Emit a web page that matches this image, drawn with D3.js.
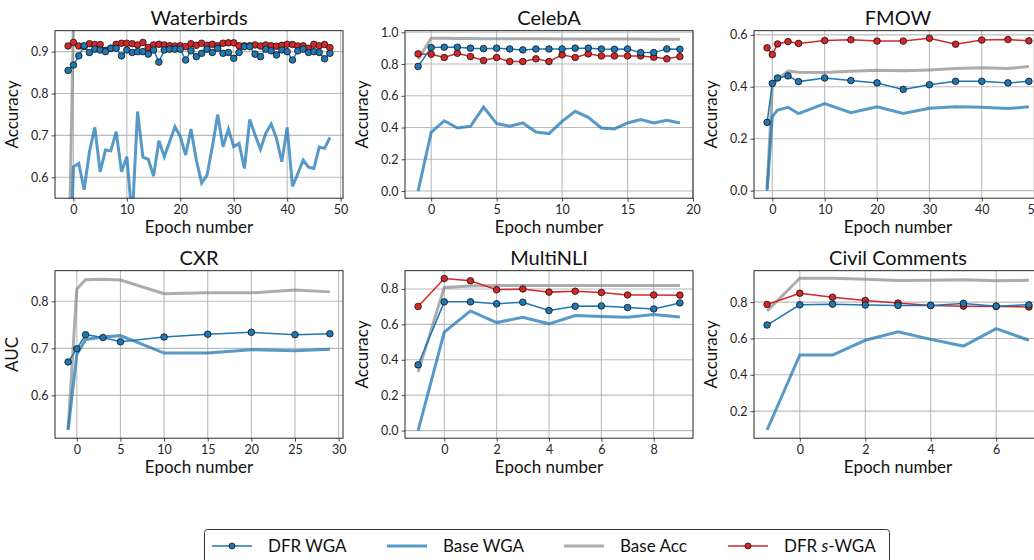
<!DOCTYPE html>
<html><head><meta charset="utf-8">
<script src="https://cdn.jsdelivr.net/npm/d3@7"></script>
<style>body{margin:0;background:#fff}svg{display:block}text{font-family:Lato,"DejaVu Sans",sans-serif}</style>
</head><body><svg id="c" width="1034" height="560"></svg>
<script>
// ---- Data ----
const seriesNames = ["DFR WGA", "Base WGA", "Base Acc", "DFR s-WGA"];

const wbEpochs = [-1,0,1,2,3,4,5,6,7,8,9,10,11,12,13,14,15,16,17,18,19,20,21,22,23,24,25,26,27,28,29,30,31,32,33,34,35,36,37,38,39,40,41,42,43,44,45,46,47,48];
const wbDfrWga = [0.855,0.868,0.890,0.914,0.898,0.906,0.904,0.900,0.908,0.908,0.890,0.904,0.898,0.900,0.900,0.894,0.904,0.875,0.904,0.906,0.906,0.906,0.880,0.902,0.888,0.896,0.906,0.898,0.908,0.896,0.898,0.884,0.898,0.912,0.912,0.894,0.888,0.906,0.902,0.892,0.904,0.900,0.880,0.902,0.906,0.898,0.900,0.898,0.883,0.896];
const wbBaseWga = [0.2,0.625,0.633,0.570,0.661,0.719,0.613,0.665,0.663,0.709,0.613,0.649,0.5,0.757,0.648,0.643,0.603,0.687,0.649,0.685,0.721,0.697,0.653,0.715,0.641,0.586,0.605,0.673,0.750,0.673,0.715,0.673,0.681,0.621,0.738,0.701,0.667,0.705,0.727,0.693,0.637,0.719,0.578,0.609,0.641,0.624,0.621,0.672,0.669,0.695];
const wbBaseAcc = [0.3,0.97,0.97,0.97,0.97,0.97,0.97,0.97,0.97,0.97,0.97,0.97,0.97,0.97,0.97,0.97,0.97,0.97,0.97,0.97,0.97,0.97,0.97,0.97,0.97,0.97,0.97,0.97,0.97,0.97,0.97,0.97,0.97,0.97,0.97,0.97,0.97,0.97,0.97,0.97,0.97,0.97,0.97,0.97,0.97,0.97,0.97,0.97,0.97,0.97];
const wbDfrSwga = [0.9135,0.922,0.9135,0.912,0.919,0.917,0.917,0.903,0.908,0.9175,0.920,0.920,0.919,0.916,0.922,0.910,0.916,0.9175,0.916,0.914,0.9135,0.914,0.912,0.919,0.915,0.920,0.915,0.9175,0.914,0.920,0.921,0.921,0.914,0.914,0.914,0.916,0.9135,0.916,0.914,0.913,0.915,0.9175,0.917,0.9135,0.914,0.908,0.9175,0.914,0.917,0.9095];

const caEpochs = [-1,0,1,2,3,4,5,6,7,8,9,10,11,12,13,14,15,16,17,18,19];
const caDfrWga = [0.785,0.904,0.906,0.906,0.900,0.897,0.900,0.895,0.889,0.895,0.895,0.895,0.900,0.900,0.895,0.893,0.895,0.872,0.872,0.895,0.893];
const caBaseWga = [0.0,0.37,0.443,0.397,0.408,0.529,0.425,0.408,0.429,0.372,0.362,0.439,0.502,0.464,0.397,0.391,0.429,0.450,0.429,0.446,0.429];
const caBaseAcc = [0.83,0.962,0.962,0.961,0.961,0.960,0.960,0.960,0.959,0.959,0.959,0.958,0.958,0.958,0.957,0.957,0.957,0.957,0.956,0.956,0.956];
const caDfrSwga = [0.864,0.862,0.841,0.868,0.847,0.822,0.841,0.816,0.816,0.833,0.816,0.858,0.841,0.864,0.851,0.851,0.851,0.851,0.843,0.833,0.847];

const fmEpochs = [-1,0,1,3,5,10,15,20,25,30,35,40,45,49];
const fmDfrWga = [0.263,0.413,0.434,0.442,0.420,0.434,0.424,0.415,0.390,0.408,0.421,0.421,0.415,0.421];
const fmBaseWga = [0.0,0.285,0.31,0.321,0.297,0.335,0.30,0.323,0.297,0.317,0.323,0.321,0.316,0.323];
const fmBaseAcc = [0.008,0.40,0.43,0.461,0.456,0.455,0.46,0.464,0.462,0.465,0.47,0.473,0.47,0.478];
const fmDfrSwga = [0.550,0.524,0.565,0.574,0.567,0.578,0.581,0.576,0.576,0.587,0.564,0.580,0.582,0.577];

const cxEpochs = [-1,0,1,3,5,10,15,20,25,29];
const cxDfrWga = [0.671,0.699,0.729,0.723,0.714,0.724,0.730,0.734,0.729,0.731];
const cxBaseWga = [0.526,0.687,0.719,0.724,0.727,0.690,0.690,0.697,0.695,0.698];
const cxBaseAcc = [0.528,0.826,0.846,0.847,0.845,0.816,0.818,0.818,0.824,0.820];
const cxDfrSwga = [];

const mnEpochs = [-1,0,1,2,3,4,5,6,7,8,9];
const mnDfrWga = [0.371,0.727,0.727,0.716,0.725,0.678,0.702,0.704,0.695,0.687,0.721];
const mnBaseWga = [0.0,0.556,0.676,0.610,0.640,0.603,0.650,0.644,0.640,0.655,0.642];
const mnBaseAcc = [0.33,0.808,0.817,0.819,0.819,0.819,0.819,0.819,0.819,0.819,0.820];
const mnDfrSwga = [0.701,0.859,0.846,0.795,0.800,0.782,0.787,0.780,0.766,0.766,0.765];

const ccEpochs = [-1,0,1,2,3,4,5,6,7];
const ccDfrWga = [0.674,0.785,0.789,0.784,0.782,0.782,0.793,0.778,0.785];
const ccBaseWga = [0.096,0.509,0.509,0.590,0.637,0.595,0.558,0.654,0.590];
const ccBaseAcc = [0.751,0.932,0.932,0.926,0.919,0.921,0.923,0.917,0.921];
const ccDfrSwga = [0.787,0.849,0.827,0.809,0.795,0.782,0.778,0.776,0.773];

const wbXTicks = [0,10,20,30,40,50], wbYTicks = [0.6,0.7,0.8,0.9];
const caXTicks = [0,5,10,15,20], caYTicks = [0.0,0.2,0.4,0.6,0.8,1.0];
const fmXTicks = [0,10,20,30,40,50], fmYTicks = [0.0,0.2,0.4,0.6];
const cxXTicks = [0,5,10,15,20,25,30], cxYTicks = [0.6,0.7,0.8];
const mnXTicks = [0,2,4,6,8], mnYTicks = [0.0,0.2,0.4,0.6,0.8];
const ccXTicks = [0,2,4,6], ccYTicks = [0.2,0.4,0.6,0.8];

// ---- Panels table built from arrays ----
const panels = [
  {title:"Waterbirds", yl:"Accuracy", ep:wbEpochs, s:[wbDfrWga,wbBaseWga,wbBaseAcc,wbDfrSwga], xd:[-3.45,50.45], yd:[0.55,0.95], xt:wbXTicks, yt:wbYTicks, yf:".1f", c:0, r:0},
  {title:"CelebA", yl:"Accuracy", ep:caEpochs, s:[caDfrWga,caBaseWga,caBaseAcc,caDfrSwga], xd:[-2,20], yd:[-0.045,1.01], xt:caXTicks, yt:caYTicks, yf:".1f", c:1, r:0},
  {title:"FMOW", yl:"Accuracy", ep:fmEpochs, s:[fmDfrWga,fmBaseWga,fmBaseAcc,fmDfrSwga], xd:[-3.5,51.5], yd:[-0.029,0.616], xt:fmXTicks, yt:fmYTicks, yf:".1f", c:2, r:0},
  {title:"CXR", yl:"AUC", ep:cxEpochs, s:[cxDfrWga,cxBaseWga,cxBaseAcc,cxDfrSwga], xd:[-2.5,30.5], yd:[0.509,0.865], xt:cxXTicks, yt:cxYTicks, yf:".1f", c:0, r:1},
  {title:"MultiNLI", yl:"Accuracy", ep:mnEpochs, s:[mnDfrWga,mnBaseWga,mnBaseAcc,mnDfrSwga], xd:[-1.5,9.5], yd:[-0.043,0.903], xt:mnXTicks, yt:mnYTicks, yf:".1f", c:1, r:1},
  {title:"Civil Comments", yl:"Accuracy", ep:ccEpochs, s:[ccDfrWga,ccBaseWga,ccBaseAcc,ccDfrSwga], xd:[-1.4,7.4], yd:[0.051,0.973], xt:ccXTicks, yt:ccYTicks, yf:".1f", c:2, r:1}
];

const colLeft = [55, 405, 754], axW = 288;
const rowTop = [30.7, 270.7], axH = 167.5;

const svg = d3.select("#c");
const C_DFR = "#1f77b4", C_SW = "#d62728";

panels.forEach((p, i) => {
  const x0 = colLeft[p.c], y0 = rowTop[p.r];
  const g = svg.append("g").attr("transform", `translate(${x0},${y0})`);
  const x = d3.scaleLinear().domain(p.xd).range([0, axW]);
  const y = d3.scaleLinear().domain(p.yd).range([axH, 0]);

  g.append("defs").append("clipPath").attr("id", "clip" + i)
    .append("rect").attr("width", axW).attr("height", axH);

  // grid
  g.append("g").selectAll("line").data(p.xt).join("line")
    .attr("x1", d => x(d)).attr("x2", d => x(d)).attr("y1", 0).attr("y2", axH)
    .attr("stroke", "#b0b0b0").attr("stroke-width", 1.1).attr("opacity", 0.85);
  g.append("g").selectAll("line").data(p.yt).join("line")
    .attr("y1", d => y(d)).attr("y2", d => y(d)).attr("x1", 0).attr("x2", axW)
    .attr("stroke", "#b0b0b0").attr("stroke-width", 1.1).attr("opacity", 0.85);

  const plot = g.append("g").attr("clip-path", `url(#clip${i})`);
  const line = arr => d3.line().x((d, k) => x(p.ep[k])).y(d => y(d))(arr);

  // Base Acc
  plot.append("path").attr("d", line(p.s[2])).attr("fill", "none")
    .attr("stroke", "#7f7f7f").attr("stroke-opacity", 0.65).attr("stroke-width", 3);
  // Base WGA
  plot.append("path").attr("d", line(p.s[1])).attr("fill", "none")
    .attr("stroke", C_DFR).attr("stroke-opacity", 0.75).attr("stroke-width", 3);
  // DFR s-WGA
  if (p.s[3].length) {
    plot.append("path").attr("d", line(p.s[3])).attr("fill", "none")
      .attr("stroke", C_SW).attr("stroke-width", 1.5);
    plot.append("g").selectAll("circle").data(p.s[3]).join("circle")
      .attr("cx", (d, k) => x(p.ep[k])).attr("cy", d => y(d)).attr("r", 3.3)
      .attr("fill", C_SW).attr("stroke", "#111").attr("stroke-width", 0.8);
  }
  // DFR WGA
  plot.append("path").attr("d", line(p.s[0])).attr("fill", "none")
    .attr("stroke", C_DFR).attr("stroke-width", 1.5);
  plot.append("g").selectAll("circle").data(p.s[0]).join("circle")
    .attr("cx", (d, k) => x(p.ep[k])).attr("cy", d => y(d)).attr("r", 3.3)
    .attr("fill", C_DFR).attr("stroke", "#111").attr("stroke-width", 0.8);

  // axes
  const xa = g.append("g").attr("transform", `translate(0,${axH})`)
    .call(d3.axisBottom(x).tickValues(p.xt).tickFormat(d3.format("d")).tickSize(3.5).tickPadding(3));
  const ya = g.append("g")
    .call(d3.axisLeft(y).tickValues(p.yt).tickFormat(d3.format(p.yf)).tickSize(3.5).tickPadding(3));
  [xa, ya].forEach(a => {
    a.select(".domain").remove();
    a.selectAll("text").attr("font-size", 12.5).attr("fill", "#262626").attr("font-family", "Lato, sans-serif");
    a.selectAll("line").attr("stroke", "#222").attr("stroke-width", 0.8);
  });
  g.append("rect").attr("width", axW).attr("height", axH).attr("fill", "none")
    .attr("stroke", "#111").attr("stroke-width", 0.9);

  // labels
  g.append("text").attr("x", axW / 2).attr("y", -6).attr("text-anchor", "middle")
    .attr("font-size", 20).attr("fill", "#111").text(p.title);
  g.append("text").attr("x", axW / 2).attr("y", axH + 35).attr("text-anchor", "middle")
    .attr("font-size", 17).attr("fill", "#111").text("Epoch number");
  g.append("text").attr("transform", `translate(${-37},${axH / 2}) rotate(-90)`)
    .attr("text-anchor", "middle").attr("font-size", 17).attr("fill", "#111").text(p.yl);
});

// ---- Legend ----
const lg = svg.append("g");
lg.append("rect").attr("x", 204.5).attr("y", 529.5).attr("width", 685).attr("height", 45).attr("rx", 3)
  .attr("fill", "#fff").attr("stroke", "#333").attr("stroke-width", 1);
const legendX = [212, 387, 564, 728];
const ly = 546;
seriesNames.forEach((name, i) => {
  const lx = legendX[i];
  const styles = [
    {c: C_DFR, w: 1.5, o: 1, m: true},
    {c: C_DFR, w: 3, o: 0.75, m: false},
    {c: "#7f7f7f", w: 3, o: 0.65, m: false},
    {c: C_SW, w: 1.5, o: 1, m: true}
  ][i];
  lg.append("line").attr("x1", lx).attr("x2", lx + 40).attr("y1", ly).attr("y2", ly)
    .attr("stroke", styles.c).attr("stroke-width", styles.w).attr("stroke-opacity", styles.o);
  if (styles.m) lg.append("circle").attr("cx", lx + 20).attr("cy", ly).attr("r", 3)
    .attr("fill", styles.c).attr("stroke", "#111").attr("stroke-width", 0.8);
  const t = lg.append("text").attr("x", lx + 56).attr("y", ly + 6).attr("font-size", 17).attr("fill", "#111");
  if (name === "DFR s-WGA") {
    t.append("tspan").text("DFR ");
    t.append("tspan").attr("font-style", "italic").text("s");
    t.append("tspan").text("-WGA");
  } else t.text(name);
});
</script></body></html>
